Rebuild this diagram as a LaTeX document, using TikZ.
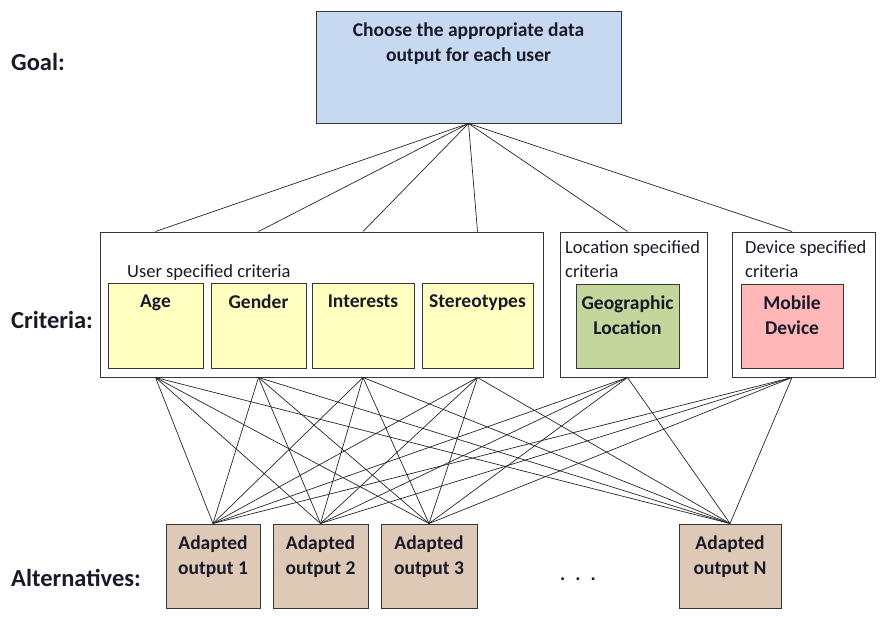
\documentclass[tikz,border=0pt]{standalone}
\usepackage{fontspec}
\setmainfont{Carlito}
\usetikzlibrary{positioning}

\definecolor{goalblue}{RGB}{198,217,241}
\definecolor{crityellow}{RGB}{255,255,192}
\definecolor{locgreen}{RGB}{195,214,155}
\definecolor{devpink}{RGB}{255,183,183}
\definecolor{alttan}{RGB}{222,200,182}
\definecolor{edgegray}{RGB}{55,55,55}
\definecolor{ink}{RGB}{25,25,40}

\tikzset{
  box/.style={draw=edgegray, line width=1pt, inner sep=0pt},
  boxtext/.style={inner sep=0pt, align=center, text=ink, font=\bfseries\fontsize{19.5}{25}\selectfont},
  smalltext/.style={inner sep=0pt, align=left, text=ink, font=\fontsize{18.5}{24}\selectfont},
  rowlabel/.style={inner sep=0pt, anchor=west, text=ink, font=\bfseries\fontsize{24.5}{28}\selectfont},
  link/.style={draw=black!85, line width=0.7pt},
}

\begin{document}
\begin{tikzpicture}[x=1pt, y=-1pt]

    \useasboundingbox (0, 0) rectangle (880, 624);

    % row labels
    \node[rowlabel] (goallbl) at (11, 62) {Goal:};
    \node[rowlabel] (critlbl) at (11, 320) {Criteria:};
    \node[rowlabel] (altlbl) at (11, 578) {Alternatives:};

    % goal
    \node[box, fill=goalblue, minimum width=305, minimum height=112] (goal) at (468.5, 67) {};
    \node[boxtext, below=12pt of goal.north] (goaltxt) {Choose the appropriate data\\output for each user};

    % criteria
    \node[box, fill=white, minimum width=443, minimum height=145] (user) at (321.5, 304.5) {};
    \node[smalltext, anchor=west] (usertxt) at (127, 273) {User specified criteria};

    \node[box, fill=crityellow, minimum width=95, minimum height=85] (age) at (155.5, 325.5) {};
    \node[box, fill=crityellow, minimum width=95, minimum height=85] (gender) at (258.5, 325.5) {};
    \node[box, fill=crityellow, minimum width=102, minimum height=85] (inter) at (363, 325.5) {};
    \node[box, fill=crityellow, minimum width=111, minimum height=85] (stereo) at (477.5, 325.5) {};

    \node[boxtext, below=12pt of age.north] (agetxt) {Age};
    \node[boxtext, below=12pt of gender.north] (gendertxt) {Gender};
    \node[boxtext, below=12pt of inter.north] (intertxt) {Interests};
    \node[boxtext, below=12pt of stereo.north] (stereotxt) {Stereotypes};

    \node[box, fill=white, minimum width=147, minimum height=145] (loc) at (633.5, 304.5) {};
    \node[smalltext, anchor=north west] (loctxt) at (565, 240) {Location specified\\criteria};
    \node[box, fill=locgreen, minimum width=103, minimum height=84] (geo) at (627.5, 326) {};
    \node[boxtext, below=12pt of geo.north] (geotxt) {Geographic\\Location};

    \node[box, fill=white, minimum width=143, minimum height=145] (dev) at (803.5, 304.5) {};
    \node[smalltext, anchor=north west] (devtxt) at (745, 240) {Device specified\\criteria};
    \node[box, fill=devpink, minimum width=102, minimum height=84] (mob) at (792, 326) {};
    \node[boxtext, below=12pt of mob.north] (mobtxt) {Mobile\\Device};

    % alternatives
    \node[box, fill=alttan, minimum width=94, minimum height=84] (alt1) at (213, 566) {};
    \node[box, fill=alttan, minimum width=95, minimum height=84] (alt2) at (320.5, 566) {};
    \node[box, fill=alttan, minimum width=96, minimum height=84] (alt3) at (429, 566) {};
    \node[box, fill=alttan, minimum width=102, minimum height=84] (altN) at (730, 566) {};

    \node[boxtext, below=12pt of alt1.north] (alt1txt) {Adapted\\output 1};
    \node[boxtext, below=12pt of alt2.north] (alt2txt) {Adapted\\output 2};
    \node[boxtext, below=12pt of alt3.north] (alt3txt) {Adapted\\output 3};
    \node[boxtext, below=12pt of altN.north] (altNtxt) {Adapted\\output N};

    \node[boxtext] (dots) at (578, 579) {.\hspace{10pt}.\hspace{10pt}.};

    % goal to criteria
    \path[link] (goal.south) to (age |- user.north);
    \path[link] (goal.south) to (gender |- user.north);
    \path[link] (goal.south) to (inter |- user.north);
    \path[link] (goal.south) to (stereo |- user.north);
    \path[link] (goal.south) to (geo |- loc.north);
    \path[link] (goal.south) to (mob |- dev.north);

    % criteria to alternatives
    \path[link] (age |- user.south) to (alt1.north);
    \path[link] (age |- user.south) to (alt2.north);
    \path[link] (age |- user.south) to (alt3.north);
    \path[link] (age |- user.south) to (altN.north);

    \path[link] (gender |- user.south) to (alt1.north);
    \path[link] (gender |- user.south) to (alt2.north);
    \path[link] (gender |- user.south) to (alt3.north);
    \path[link] (gender |- user.south) to (altN.north);

    \path[link] (inter |- user.south) to (alt1.north);
    \path[link] (inter |- user.south) to (alt2.north);
    \path[link] (inter |- user.south) to (alt3.north);
    \path[link] (inter |- user.south) to (altN.north);

    \path[link] (stereo |- user.south) to (alt1.north);
    \path[link] (stereo |- user.south) to (alt2.north);
    \path[link] (stereo |- user.south) to (alt3.north);
    \path[link] (stereo |- user.south) to (altN.north);

    \path[link] (geo |- loc.south) to (alt1.north);
    \path[link] (geo |- loc.south) to (alt2.north);
    \path[link] (geo |- loc.south) to (alt3.north);
    \path[link] (geo |- loc.south) to (altN.north);

    \path[link] (mob |- dev.south) to (alt1.north);
    \path[link] (mob |- dev.south) to (alt2.north);
    \path[link] (mob |- dev.south) to (alt3.north);
    \path[link] (mob |- dev.south) to (altN.north);

  \end{tikzpicture}
\end{document}
